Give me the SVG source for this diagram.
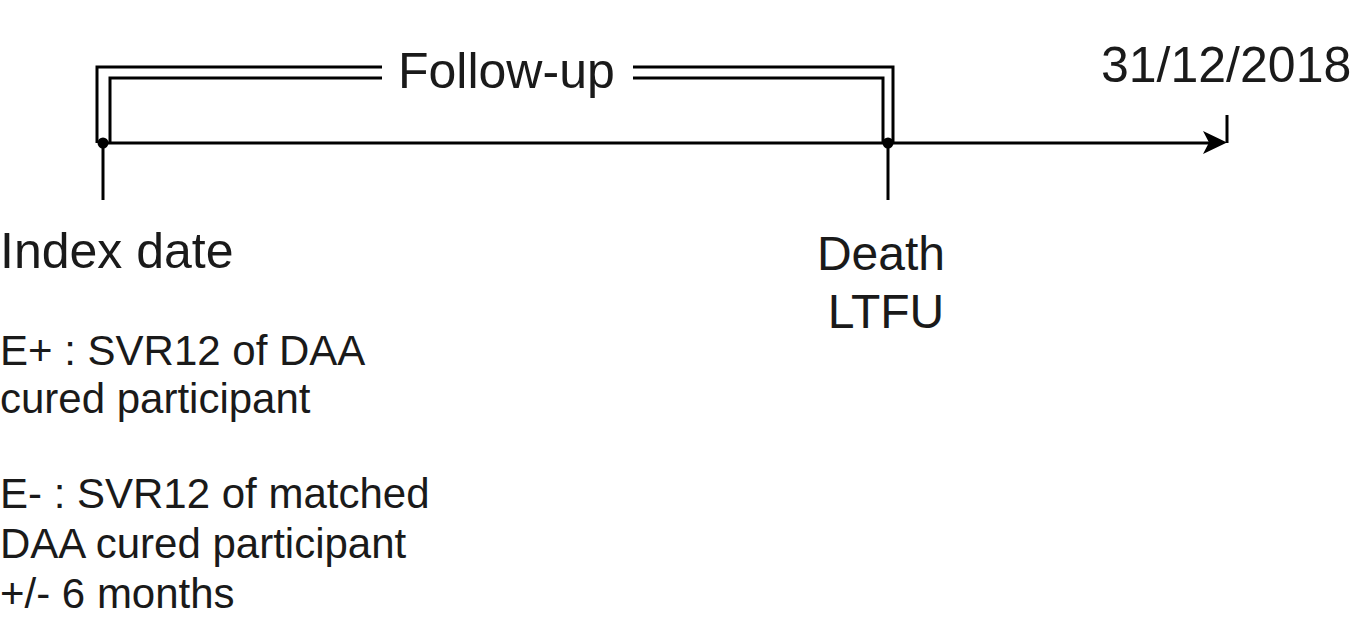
<svg xmlns="http://www.w3.org/2000/svg" width="1353" height="622" viewBox="0 0 1353 622">
<style>
.t{font-family:"Liberation Sans",Arial,sans-serif;fill:#1a1a1a}
.big{font-size:50px}
.mid{font-size:48px}
.sm{font-size:42px}
.ln{fill:none;stroke:#000;stroke-width:3}
</style>
<rect width="1353" height="622" fill="#fff"/>
<g id="connectors">
<path class="ln" d="M382,67 H97 V143"/>
<path class="ln" d="M382,78 H110 V143"/>
<path class="ln" d="M633,67 H893 V143"/>
<path class="ln" d="M633,78 H883 V143"/>
<path class="ln" d="M103,143 H1210"/>
<polygon points="1227,142.5 1203,131 1209,142.5 1203,154" fill="#000"/>
<path class="ln" d="M1227,115 V143" stroke-width="2"/>
<path class="ln" d="M103,143 V200" stroke-width="2.5"/>
<path class="ln" d="M888,143 V200" stroke-width="1.8"/>
<circle cx="103" cy="143" r="5.5" fill="#000"/>
<circle cx="888" cy="143" r="5.5" fill="#000"/>
</g>
<g id="followup"><text class="t big" x="398" y="88">Follow-up</text></g>
<g id="enddate"><text class="t big" x="1101" y="82">31/12/2018</text></g>
<g id="index"><text class="t big" x="0" y="268">Index date</text></g>
<g id="death">
<text class="t mid" x="881" y="270" text-anchor="middle">Death</text>
<text class="t mid" x="886" y="328" text-anchor="middle">LTFU</text>
</g>
<g id="eplus">
<text class="t sm" x="0" y="365">E+ : SVR12 of DAA</text>
<text class="t sm" x="0" y="413">cured participant</text>
</g>
<g id="eminus">
<text class="t sm" x="0" y="508">E- : SVR12 of matched</text>
<text class="t sm" x="0" y="558">DAA cured participant</text>
<text class="t sm" x="0" y="608">+/- 6 months</text>
</g>
</svg>
